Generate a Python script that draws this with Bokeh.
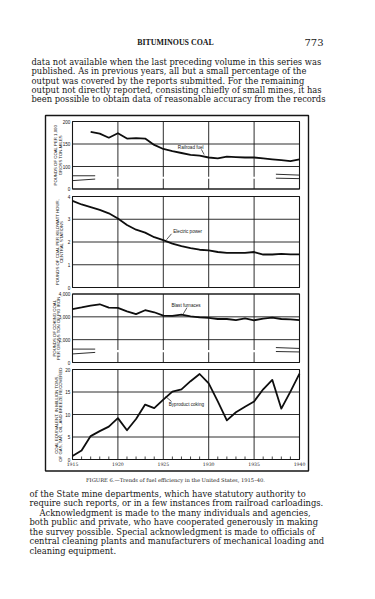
import math
from bokeh.plotting import figure
from bokeh.models import Range1d
from bokeh.core.properties import value
from bokeh.embed import file_html
from bokeh.resources import INLINE

# ---------------- data ----------------
rail_years = list(range(1917, 1941))
rail_fuel = [177, 173, 164, 174, 162, 163, 162, 148, 139, 134, 130, 126, 124,
             120, 118, 122, 121, 120, 120, 118, 116, 114, 112, 116]

years = list(range(1915, 1941))
electric_power = [3.81, 3.65, 3.53, 3.41, 3.26, 3.03, 2.75, 2.54, 2.41, 2.21,
                  2.08, 1.93, 1.82, 1.73, 1.66, 1.63, 1.56, 1.52, 1.52, 1.52,
                  1.56, 1.45, 1.45, 1.48, 1.46, 1.46]
blast_furnaces = [3340, 3410, 3490, 3550, 3400, 3390, 3240, 3120, 3290, 3200,
                  3050, 3040, 3095, 3020, 2980, 2950, 2905, 2905, 2860, 2935,
                  2850, 2920, 2965, 2905, 2890, 2860]
byproduct_coking = [0.8, 2.0, 5.2, 6.3, 7.3, 9.2, 6.5, 9.0, 12.2, 11.4, 13.3,
                    15.1, 15.6, 17.4, 19.0, 16.9, 12.9, 8.7, 10.5, 11.7, 12.9,
                    15.6, 17.7, 11.3, 15.1, 19.1]

rail_ticks = [0, 100, 150, 200]
power_ticks = [0, 1, 2, 3, 4]
blast_ticks = [0, 2000, 3000, 4000]
coking_ticks = [0, 5, 10, 15, 20]
year_ticks = [1915, 1920, 1925, 1930, 1935, 1940]

rail_title = ["POUNDS OF COAL PER 1,000", "GROSS TON-MILES"]
power_title = ["POUNDS OF COAL PER KILOWATT HOUR,", "CENTRAL STATIONS"]
blast_title = ["POUNDS OF COKING COAL", "PER GROSS TON OF PIG IRON"]
coking_title = ["COAL EQUIVALENT, IN MILLION TONS,", "OF GAS, TAR, OIL, AND BREEZE RECOVERED"]

series_labels = ["Railroad fuel", "Electric power", "Blast furnaces", "Byproduct coking"]

header_title = "BITUMINOUS COAL"
page_number = "773"
top_lines = [
    "data not available when the last preceding volume in this series was",
    "published.  As in previous years, all but a small percentage of the",
    "output was covered by the reports submitted.  For the remaining",
    "output not directly reported, consisting chiefly of small mines, it has",
    "been possible to obtain data of reasonable accuracy from the records",
]
caption = "FIGURE 6.\u2014Trends of fuel efficiency in the United States, 1915\u201340."
bottom_lines = [
    "of the State mine departments, which have statutory authority to",
    "require such reports, or in a few instances from railroad carloadings.",
    "Acknowledgment is made to the many individuals and agencies,",
    "both public and private, who have cooperated generously in making",
    "the survey possible.  Special acknowledgment is made to officials of",
    "central cleaning plants and manufacturers of mechanical loading and",
    "cleaning equipment.",
]

# ---------------- layout (page pixels, measured from the top) ----------------
W, H = 375, 599
PL, PR = 72, 299
X0, X1 = 1915, 1940
ppy = (PR - PL) / (X1 - X0)
INK = "#161616"
SERIF = value("DejaVu Serif")
SANS = value("Liberation Sans")


def py(y):
    """page y measured from top -> page range value"""
    return H - y


p = figure(width=W, height=H, output_backend="svg", toolbar_location=None,
           x_range=Range1d(X0 - PL / ppy, X0 + (W - PL) / ppy),
           y_range=Range1d(0, H), x_axis_type=None, y_axis_type=None,
           min_border=0, outline_line_color=None)
p.grid.visible = False
p.background_fill_color = "#ffffff"
p.border_fill_color = "#ffffff"
p.extra_x_ranges = {"page": Range1d(0, W)}

panels = [
    dict(name="rail", top=121, bottom=188.5, vmax=200, vbot=50, brk=100,
         ticks=rail_ticks, title=rail_title, tx=(55, 59.5),
         x=rail_years, y=rail_fuel, label=series_labels[0],
         lab=(1926.6, 143), lead=((1929.2, 138), (1929.5, 126.5))),
    dict(name="power", top=196, bottom=287, vmax=4, vbot=0, brk=None,
         ticks=power_ticks, title=power_title, tx=(56.5, 61),
         x=years, y=electric_power, label=series_labels[1],
         lab=(1926.1, 2.45), lead=((1925.9, 2.36), (1925.35, 2.1))),
    dict(name="blast", top=293.5, bottom=362, vmax=4000, vbot=1000, brk=2000,
         ticks=blast_ticks, title=blast_title, tx=(53.5, 58),
         x=years, y=blast_furnaces, label=series_labels[2],
         lab=(1925.9, 3490), lead=((1927.6, 3400), (1927.2, 3130))),
    dict(name="coking", top=369, bottom=459, vmax=20, vbot=0, brk=None,
         ticks=coking_ticks, title=coking_title, tx=(55.5, 60),
         x=years, y=byproduct_coking, label=series_labels[3],
         lab=(1925.6, 12.2), lead=((1925.9, 12.9), (1925.25, 14.0))),
]

ranges = {}
for pn in panels:
    scale = (pn["vmax"] - pn["vbot"]) / (pn["bottom"] - pn["top"])
    ranges[pn["name"]] = Range1d(start=pn["vmax"] - (H - pn["top"]) * scale,
                                 end=pn["vmax"] + pn["top"] * scale)
    pn["scale"] = scale
p.extra_y_ranges = ranges

# outer frame of the figure
p.quad(left=[PL - 27], right=[PR + 9], top=[py(115)], bottom=[py(470.5)],
       x_range_name="page", fill_color=None, line_color=INK, line_width=1.4)

for pn in panels:
    rn = pn["name"]
    vb, vt, brk = pn["vbot"], pn["vmax"], pn["brk"]
    disp = [t if (brk is None or t >= brk) else vb for t in pn["ticks"]]
    # horizontal grid lines
    p.segment(x0=[X0] * len(disp), x1=[X1] * len(disp), y0=disp, y1=disp,
              y_range_name=rn, line_color=INK, line_width=0.9)
    # vertical grid lines
    inner = year_ticks[1:-1]
    p.segment(x0=inner, x1=inner, y0=[vb] * len(inner), y1=[vt] * len(inner),
              y_range_name=rn, line_color=INK, line_width=0.9)
    # panel box
    p.quad(left=[X0], right=[X1], bottom=[vb], top=[vt], y_range_name=rn,
           fill_color=None, line_color=INK, line_width=1.1)
    # broken axis marks
    if brk is not None:
        mid = (vb + brk) / 2.0
        d = 2.2 * pn["scale"]
        p.quad(left=[X0 + 0.3], right=[X1 - 0.3], bottom=[mid - 0.5 * d],
               top=[mid + 0.5 * d], y_range_name=rn, fill_color="white",
               line_color=None)
        p.segment(x0=[X0, X0, X1 - 2.6, X1 - 2.6],
                  x1=[X0 + 2.5, X0 + 2.5, X1, X1],
                  y0=[mid + d * 0.9, mid - d * 1.3, mid + d * 1.6, mid - d * 0.2],
                  y1=[mid + d * 0.9, mid - d * 0.6, mid + d * 1.2, mid - d * 0.4],
                  y_range_name=rn, line_color=INK, line_width=0.9)
    # tick labels
    labels = ["{:,}".format(t) for t in pn["ticks"]]
    p.text(x=[X0 - 2.2 / ppy] * len(disp), y=disp, text=labels,
           y_range_name=rn, text_font=SANS, text_font_size="4.6px",
           text_align="right", text_baseline="middle", text_color=INK)
    # data line
    p.line(pn["x"], pn["y"], y_range_name=rn, line_color="#0e0e0e",
           line_width=1.8, line_join="round")
    # series label and leader
    p.text(x=[pn["lab"][0]], y=[pn["lab"][1]], text=[pn["label"]],
           y_range_name=rn, text_font=SANS, text_font_size="4.6px",
           text_align="left", text_baseline="middle", text_color=INK)
    (a, b) = pn["lead"]
    p.segment(x0=[a[0]], y0=[a[1]], x1=[b[0]], y1=[b[1]], y_range_name=rn,
              line_color=INK, line_width=0.7)
    # rotated axis title (reads bottom to top)
    cy = py((pn["top"] + pn["bottom"]) / 2.0)
    p.text(x=list(pn["tx"]), y=[cy, cy], text=pn["title"], x_range_name="page",
           angle=math.pi / 2, text_font=SANS, text_font_size="4.3px",
           text_align="center", text_baseline="middle", text_color=INK)

# year ticks and labels on the bottom panel
cp = panels[-1]
minor = [y for y in years if y not in year_ticks]
p.segment(x0=minor, x1=minor, y0=[0] * len(minor), y1=[3 * cp["scale"]] * len(minor),
          y_range_name="coking", line_color=INK, line_width=0.8)
p.text(x=year_ticks, y=[-4.2 * cp["scale"]] * len(year_ticks),
       text=[str(y) for y in year_ticks], y_range_name="coking",
       text_font=SERIF, text_font_size="4.6px", text_align="center",
       text_baseline="middle", text_color=INK)

# ---------------- page text ----------------
p.text(x=[175], y=[py(42)], text=[header_title], x_range_name="page",
       text_font=value("Liberation Serif"), text_font_style="bold",
       text_font_size="7.9px", text_align="center", text_baseline="middle",
       text_color=INK)
p.text(x=[323], y=[py(42)], text=[page_number], x_range_name="page",
       text_font=SERIF, text_font_size="10px", text_align="right",
       text_baseline="middle", text_color=INK)
p.text(x=[31] * len(top_lines),
       y=[py(61.5 + 9.3 * i) for i in range(len(top_lines))],
       text=top_lines, x_range_name="page", text_font=SERIF,
       text_font_size="8.35px", text_align="left", text_baseline="middle",
       text_color=INK)
p.text(x=[175], y=[py(479)], text=[caption], x_range_name="page",
       text_font=SERIF, text_font_size="5.2px", text_align="center",
       text_baseline="middle", text_color=INK)
bx = [29] * len(bottom_lines)
bx[2] = 39
p.text(x=bx, y=[py(493.5 + 9.45 * i) for i in range(len(bottom_lines))],
       text=bottom_lines, x_range_name="page", text_font=SERIF,
       text_font_size="8.35px", text_align="left", text_baseline="middle",
       text_color=INK)

open("out.html", "w").write(file_html(p, INLINE))
